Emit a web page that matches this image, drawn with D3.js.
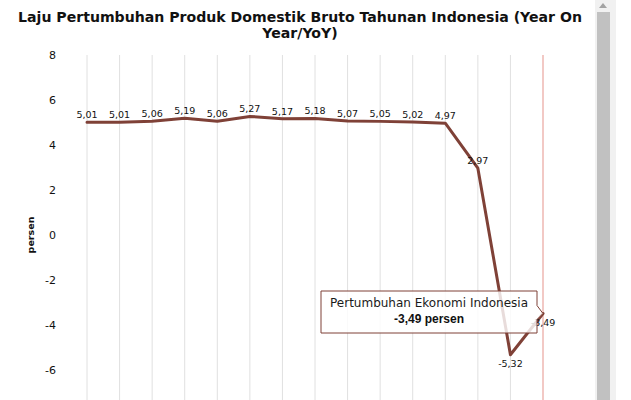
<!DOCTYPE html>
<html>
<head>
<meta charset="utf-8">
<script src="https://cdn.jsdelivr.net/npm/d3@7/dist/d3.min.js"></script>
<style>
  html, body { margin: 0; padding: 0; background: #fff; overflow: hidden; }
  svg { display: block; }
</style>
</head>
<body>
<svg id="chart" width="631" height="400"></svg>
<script>
// ---- data ----
const categories = ["Q1 2017","Q2 2017","Q3 2017","Q4 2017","Q1 2018","Q2 2018","Q3 2018","Q4 2018","Q1 2019","Q2 2019","Q3 2019","Q4 2019","Q1 2020","Q2 2020","Q3 2020"];
const growth = [5.01, 5.01, 5.06, 5.19, 5.06, 5.27, 5.17, 5.18, 5.07, 5.05, 5.02, 4.97, 2.97, -5.32, -3.49];
const yTicks = [-6, -4, -2, 0, 2, 4, 6, 8];
const titleLines = ["Laju Pertumbuhan Produk Domestik Bruto Tahunan Indonesia (Year On", "Year/YoY)"];
const yAxisTitle = "persen";
const seriesName = "Pertumbuhan Ekonomi Indonesia";
const unit = "persen";
const hoverIndex = 14;

const fmt = v => v.toFixed(2).replace(".", ",");

const svg = d3.select("#chart");
const x = d3.scalePoint().domain(categories).range([87, 543]);
const y = d3.scaleLinear().domain([-8, 8]).range([415, 55]);

// title
const title = svg.append("text")
  .attr("x", 300).attr("y", 22)
  .attr("text-anchor", "middle")
  .style("font-family", "'DejaVu Sans', Verdana, sans-serif")
  .style("font-weight", "bold")
  .style("font-size", "14.1px")
  .attr("fill", "#111");
titleLines.forEach((t, i) => {
  title.append("tspan").attr("x", 300).attr("dy", i === 0 ? 0 : 16).text(t);
});

// vertical gridlines
svg.append("g").selectAll("line")
  .data(categories)
  .join("line")
  .attr("x1", d => x(d)).attr("x2", d => x(d))
  .attr("y1", y(8)).attr("y2", 420)
  .attr("stroke", (d, i) => i === hoverIndex ? "#f2c9c5" : "#e0e0e0")
  .attr("stroke-width", (d, i) => i === hoverIndex ? 2 : 1);

// y axis
const yAxis = svg.append("g")
  .attr("transform", "translate(60,0)")
  .call(d3.axisLeft(y).tickValues(yTicks).tickSize(0).tickPadding(4).tickFormat(d => String(d)));
yAxis.select(".domain").remove();
yAxis.selectAll("text")
  .style("font-family", "'DejaVu Sans', Verdana, sans-serif")
  .style("font-size", "11px")
  .attr("fill", "#111");

// y axis title
svg.append("text")
  .attr("transform", `translate(34,${y(0)}) rotate(-90)`)
  .attr("text-anchor", "middle")
  .style("font-family", "'DejaVu Sans', Verdana, sans-serif")
  .style("font-weight", "bold")
  .style("font-size", "9.5px")
  .attr("fill", "#111")
  .text(yAxisTitle);

// line
const line = d3.line()
  .x((d, i) => x(categories[i]))
  .y(d => y(d));
svg.append("path")
  .datum(growth)
  .attr("d", line)
  .attr("fill", "none")
  .attr("stroke", "#7f4137")
  .attr("stroke-width", 3)
  .attr("stroke-linejoin", "round")
  .attr("stroke-linecap", "round");

// data labels
const isBelow = i => i >= 13;
svg.append("g").selectAll("text")
  .data(growth)
  .join("text")
  .attr("x", (d, i) => x(categories[i]))
  .attr("y", (d, i) => y(d) + (isBelow(i) ? 12 : -4))
  .attr("text-anchor", "middle")
  .style("font-family", "'DejaVu Sans', Verdana, sans-serif")
  .style("font-size", "9.5px")
  .attr("fill", "#111")
  .text(d => fmt(d));

// tooltip
const px = x(categories[hoverIndex]);
const py = y(growth[hoverIndex]);
const bx0 = 321, bx1 = 537, by0 = 291, by1 = 333;
const tip = svg.append("g");
tip.append("path")
  .attr("d", `M${bx0},${by0} H${bx1} V${py - 8} L${px},${py} L${bx1},${py + 6} V${by1} H${bx0} Z`)
  .attr("fill", "rgba(255,255,255,0.82)")
  .attr("stroke", "#7f4137")
  .attr("stroke-width", 1);
tip.append("text")
  .attr("x", (bx0 + bx1) / 2).attr("y", 307)
  .attr("text-anchor", "middle")
  .style("font-family", "'DejaVu Sans', Verdana, sans-serif")
  .style("font-size", "12px")
  .attr("fill", "#1a1a1a")
  .text(seriesName);
tip.append("text")
  .attr("x", (bx0 + bx1) / 2).attr("y", 323)
  .attr("text-anchor", "middle")
  .style("font-family", "'Liberation Sans Narrow', 'Liberation Sans', Arial, sans-serif")
  .style("font-weight", "bold")
  .style("font-size", "12px")
  .attr("fill", "#111")
  .text(fmt(growth[hoverIndex]) + " " + unit);

// scrollbar (page chrome)
svg.append("rect").attr("x", 595).attr("y", 0).attr("width", 21).attr("height", 400).attr("fill", "#f1f1f1");
svg.append("rect").attr("x", 597).attr("y", 12).attr("width", 13).attr("height", 388).attr("fill", "#c1c1c1");
svg.append("path").attr("d", "M599,8 L603,3 L607,8 Z").attr("fill", "#a3a3a3");
</script>
</body>
</html>
